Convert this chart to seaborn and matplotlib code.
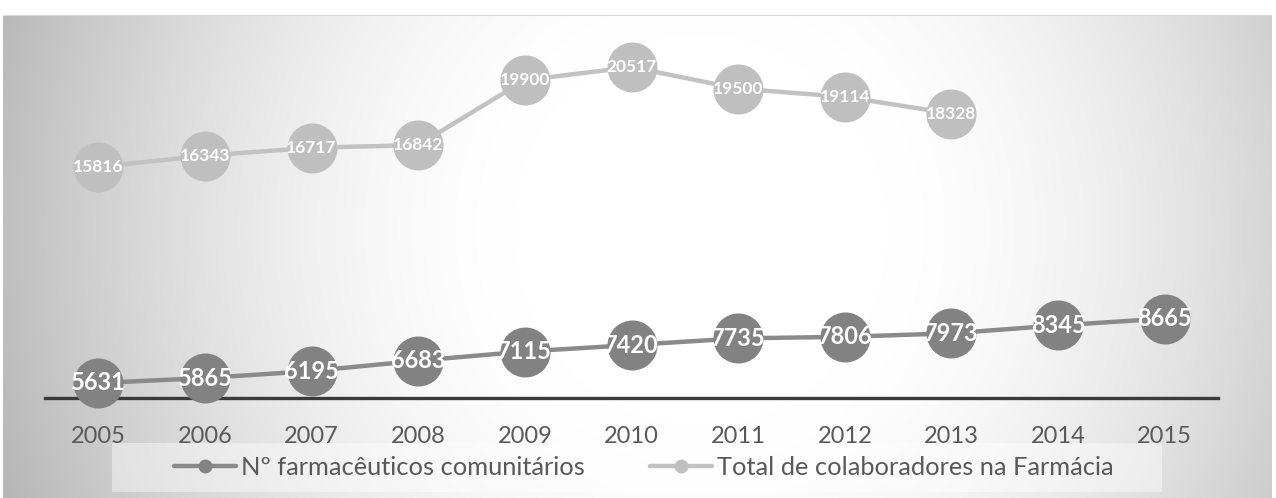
import numpy as np
import pandas as pd
import matplotlib
matplotlib.use("Agg")
import matplotlib.pyplot as plt
import seaborn as sns
from matplotlib.lines import Line2D
from matplotlib.patches import Rectangle

years = ["2005", "2006", "2007", "2008", "2009", "2010", "2011", "2012", "2013", "2014", "2015"]
farmaceuticos = [5631, 5865, 6195, 6683, 7115, 7420, 7735, 7806, 7973, 8345, 8665]
colaboradores = [15816, 16343, 16717, 16842, 19900, 20517, 19500, 19114, 18328, np.nan, np.nan]
series_names = ["Nº farmacêuticos comunitários", "Total de colaboradores na Farmácia"]

sns.set_theme(style="white")
plt.rcParams['font.family'] = ['Lato', 'DejaVu Sans']

W, H = 1276, 498
fig = plt.figure(figsize=(W / 100, H / 100), dpi=100)
fig.patch.set_facecolor("white")

# background radial gradient (styling only)
bg = fig.add_axes([0, 0, 1, 1], zorder=0)
yy, xx = np.mgrid[0:H, 0:W]
d = np.sqrt(((xx - 700) / 620.0) ** 2 + ((yy - 230) / 650.0) ** 2)
val = 1.0 - 0.24 * np.clip((d - 0.3) / 0.8, 0, None) ** 1.6
val = np.clip(val, 0.70, 1.0)
img = np.dstack([val, val, val])
img[:15, :, :] = 1.0
img[:, :3, :] = 1.0
img[:, 1272:, :] = 1.0
img[15, 3:1272, :] = 0.85
bg.imshow(img, extent=(0, W, H, 0), aspect="auto", interpolation="bilinear")
bg.set_xlim(0, W)
bg.set_ylim(H, 0)
bg.axis("off")
# legend backdrop box
bg.add_patch(Rectangle((112, 443), 1050, 49, facecolor="white", alpha=0.42,
                       edgecolor="none", zorder=2))

ax = fig.add_axes([45 / W, 1 - 398 / H, 1173 / W, 373 / H], zorder=1)
ax.patch.set_alpha(0)

idx = list(range(len(years)))
df = pd.DataFrame({
    "x": idx * 2,
    "v": farmaceuticos + colaboradores,
    "s": [series_names[0]] * len(years) + [series_names[1]] * len(years),
})
pal = {series_names[0]: "#8a8a8a", series_names[1]: "#c2c2c2"}
sns.lineplot(data=df, x="x", y="v", hue="s", palette=pal, marker="o", markersize=36,
             linewidth=3.2, markeredgewidth=0, ax=ax, legend=False, clip_on=False, zorder=3)

for line, mc in zip(ax.lines, ["#828282", "#bfbfbf"]):
    line.set_markerfacecolor(mc)
    line.set_markeredgecolor(mc)

for i, v in enumerate(farmaceuticos):
    ax.text(i, v, str(v), ha="center", va="center", color="white", fontsize=17,
            fontweight="bold", zorder=5)
for i, v in enumerate(colaboradores):
    if not np.isnan(v):
        ax.text(i, v, str(int(v)), ha="center", va="center", color="white", fontsize=12.5,
                fontweight="bold", zorder=5)

ax.set_xlim(-0.5, 10.5)
ax.set_ylim(4924, 22500)
ax.set_xticks(idx)
ax.set_xticklabels(years, fontsize=17, color="#595959")
ax.set_yticks([])
ax.tick_params(axis="x", length=0, pad=20)
ax.set_xlabel("")
ax.set_ylabel("")
for s in ["top", "left", "right"]:
    ax.spines[s].set_visible(False)
ax.spines["bottom"].set_color("#3a3a3a")
ax.spines["bottom"].set_linewidth(2.4)
ax.spines["bottom"].set_zorder(2)

handles = [Line2D([0], [0], color="#8a8a8a", lw=3.2, marker="o", markersize=10,
                  markerfacecolor="#828282", markeredgewidth=0),
           Line2D([0], [0], color="#c2c2c2", lw=3.2, marker="o", markersize=10,
                  markerfacecolor="#bfbfbf", markeredgewidth=0)]
leg = fig.legend(handles, series_names, loc="center", bbox_to_anchor=(644 / W, 1 - 467 / H),
                 ncol=2, fontsize=18.3, frameon=False, handlelength=2.44, columnspacing=2.56,
                 handletextpad=0.2, borderpad=0.3)
for t in leg.get_texts():
    t.set_color("#595959")

fig.savefig("out.png", dpi=100)
